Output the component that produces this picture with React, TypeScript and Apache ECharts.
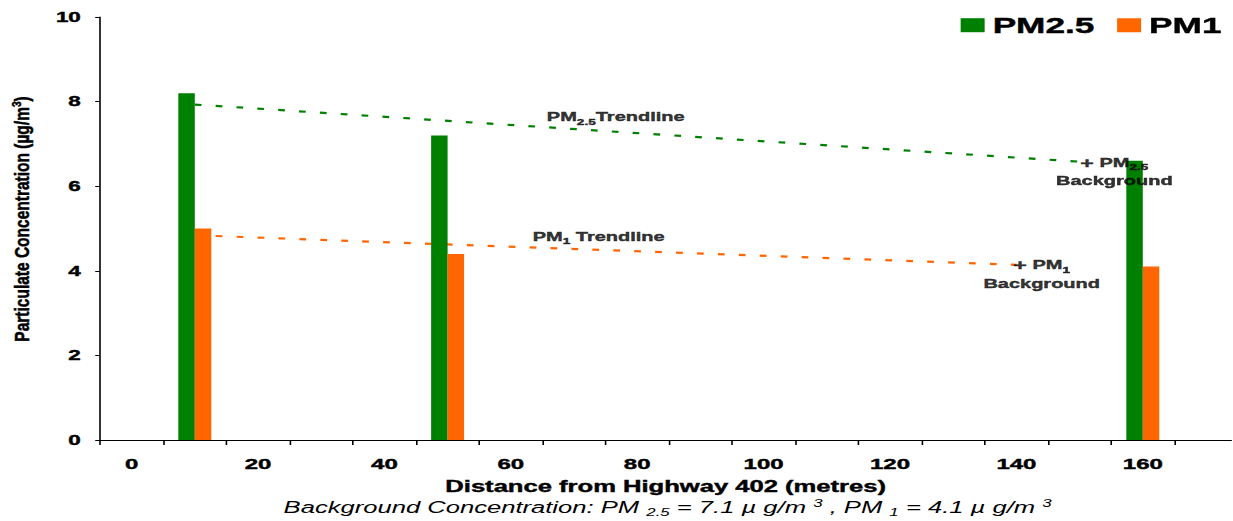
import React, { useEffect, useRef } from 'react';
import * as echarts from 'echarts';

// Measured concentrations at each sampling distance
const distances = [10, 50, 160];
const pm25Values = [8.2, 7.2, 6.6];
const pm1Values = [5.0, 4.4, 4.1];

// Trend lines, from the nearest site out to the background level
const pm25Trend = [
  [10, 7.93],
  [150, 6.58],
];
const pm1Trend = [
  [10, 4.84],
  [140, 4.14],
];

const seriesNames = ['PM2.5', 'PM1'];
const xTickValues = [-5, 5, 15, 25, 35, 45, 55, 65, 75, 85, 95, 105, 115, 125, 135, 145, 155, 165];
const xLabelValues = [0, 20, 40, 60, 80, 100, 120, 140, 160];
const yTickValues = [0, 2, 4, 6, 8, 10];

// Text annotations, anchored in data units (distance, concentration)
const notes = [
  { at: [76.6, 7.64], text: '{b|PM}{s|2.5}{b|Trendline}' },
  { at: [73.9, 4.81], text: '{b|PM}{s|1}{b| Trendline}' },
  { at: [155.5, 6.34], text: '{c|+}{b| PM}{s|2.5}\n{b|Background}' },
  { at: [144.0, 3.92], text: '{c|+}{b| PM}{s|1}\n{b|Background}' },
];

// The figure is drawn narrow and widened horizontally as a whole
const STRETCH = 1.6;
const WIDTH = 1233 / STRETCH;
const HEIGHT = 521;

const FONT = '"Liberation Sans", Arial, Helvetica, sans-serif';
const GREEN = '#008000';
const ORANGE = '#ff6600';
// a hairline outline in the text colour makes the bold lettering a little heavier
const HEAVY = { textBorderColor: '#000', textBorderWidth: 0.4 };

const noteRich = {
  b: { fontFamily: FONT, fontSize: 12.5, fontWeight: 'bold', color: '#000', lineHeight: 18.5, ...HEAVY },
  c: { fontFamily: FONT, fontSize: 14.5, fontWeight: 'bold', color: '#000', lineHeight: 18.5, ...HEAVY },
  s: {
    fontFamily: FONT,
    fontSize: 8.5,
    fontWeight: 'bold',
    color: '#000',
    lineHeight: 10,
    verticalAlign: 'bottom',
    ...HEAVY,
  },
};

function buildOption(): echarts.EChartsOption {
  const gridLeft = 62.5;
  const gridWidth = (179 * 6.32) / STRETCH;
  return {
    animation: false,
    backgroundColor: '#fff',
    grid: { left: gridLeft, right: WIDTH - gridLeft - gridWidth, top: 17, bottom: 81, containLabel: false },
    legend: {
      data: seriesNames,
      right: 2,
      top: 9,
      icon: 'rect',
      itemWidth: 15,
      itemHeight: 14,
      itemGap: 14,
      textStyle: { fontFamily: FONT, fontSize: 22, fontWeight: 'bold', color: '#000', ...HEAVY },
    },
    xAxis: {
      type: 'value',
      min: -5,
      max: 174,
      axisLine: { show: true, onZero: false, lineStyle: { color: '#000', width: 1 } },
      axisTick: { show: true, customValues: xTickValues, length: 5, lineStyle: { color: '#000' } },
      axisLabel: {
        customValues: xLabelValues,
        margin: 16.5,
        fontFamily: FONT,
        fontSize: 15,
        fontWeight: 'bold',
        color: '#000',
        ...HEAVY,
      },
      splitLine: { show: false },
      name: 'Distance from Highway 402 (metres)',
      nameLocation: 'middle',
      nameGap: 39,
      nameTextStyle: { fontFamily: FONT, fontSize: 16, fontWeight: 'bold', color: '#000', ...HEAVY },
    },
    yAxis: {
      type: 'value',
      min: yTickValues[0],
      max: yTickValues[yTickValues.length - 1],
      interval: 2,
      axisLine: { show: true, onZero: false, lineStyle: { color: '#000', width: 1 } },
      axisTick: { show: true, length: 3, lineStyle: { color: '#000' } },
      axisLabel: { margin: 12, fontFamily: FONT, fontSize: 14, fontWeight: 'bold', color: '#000', ...HEAVY },
      splitLine: { show: false },
    },
    series: [
      {
        type: 'line',
        name: 'PM2.5 trend',
        data: pm25Trend,
        symbol: 'none',
        silent: true,
        z: 1,
        lineStyle: { color: GREEN, width: 2.2, type: [4.2, 8.9] },
      },
      {
        type: 'line',
        name: 'PM1 trend',
        data: pm1Trend,
        symbol: 'none',
        silent: true,
        z: 1,
        lineStyle: { color: ORANGE, width: 2.2, type: [4.2, 8.9] },
      },
      {
        type: 'bar',
        name: seriesNames[0],
        data: distances.map((d, i) => [d, pm25Values[i]]),
        barWidth: 10.3,
        barGap: '0%',
        z: 3,
        itemStyle: { color: GREEN },
      },
      {
        type: 'bar',
        name: seriesNames[1],
        data: distances.map((d, i) => [d, pm1Values[i]]),
        barWidth: 10.3,
        barGap: '0%',
        z: 3,
        itemStyle: { color: ORANGE },
      },
      {
        type: 'scatter',
        name: 'notes',
        silent: true,
        symbolSize: 0,
        z: 5,
        data: notes.map((n) => ({ value: n.at, label: { formatter: n.text } })),
        label: { show: true, position: 'inside', color: '#000', rich: noteRich },
      },
    ],
    graphic: [
      {
        type: 'text',
        x: 13.75,
        y: 219,
        rotation: Math.PI / 2,
        scaleY: 0.85,
        style: {
          text: '{t|Particulate Concentration (µg/m}{u|3}{t|)}',
          align: 'center',
          verticalAlign: 'middle',
          rich: {
            t: {
              fontFamily: FONT,
              fontSize: 15.5,
              fontWeight: 'bold',
              fill: '#000',
              lineHeight: 18,
              stroke: '#000',
              lineWidth: 0.4,
            },
            u: {
              fontFamily: FONT,
              fontSize: 10,
              fontWeight: 'bold',
              fill: '#000',
              lineHeight: 10,
              verticalAlign: 'top',
              stroke: '#000',
              lineWidth: 0.4,
            },
          },
        },
      },
      {
        type: 'text',
        x: 417.2,
        y: 508,
        style: {
          text: '{i|Background Concentration: PM }{d|2.5}{i| = 7.1 µ g/m }{p|3}{i| , PM }{d|1}{i| = 4.1 µ g/m }{p|3}',
          align: 'center',
          verticalAlign: 'middle',
          rich: {
            i: { fontFamily: FONT, fontSize: 16, fontStyle: 'italic', fill: '#000', lineHeight: 20 },
            d: {
              fontFamily: FONT,
              fontSize: 10.5,
              fontStyle: 'italic',
              fill: '#000',
              lineHeight: 12,
              verticalAlign: 'bottom',
            },
            p: {
              fontFamily: FONT,
              fontSize: 10.5,
              fontStyle: 'italic',
              fill: '#000',
              lineHeight: 12,
              verticalAlign: 'top',
            },
          },
        },
      },
    ],
  } as echarts.EChartsOption;
}

export default function App() {
  const ref = useRef<HTMLDivElement>(null);

  useEffect(() => {
    if (!ref.current) return;
    const chart = echarts.init(ref.current, null, { renderer: 'svg', width: WIDTH, height: HEIGHT });
    chart.setOption(buildOption());
    return () => chart.dispose();
  }, []);

  return (
    <div
      style={{
        position: 'fixed',
        left: 0,
        top: 0,
        width: 1233,
        height: 521,
        overflow: 'hidden',
        background: '#fff',
      }}
    >
      <div
        ref={ref}
        style={{
          width: WIDTH,
          height: HEIGHT,
          transform: `scaleX(${STRETCH})`,
          transformOrigin: '0 0',
        }}
      />
    </div>
  );
}
